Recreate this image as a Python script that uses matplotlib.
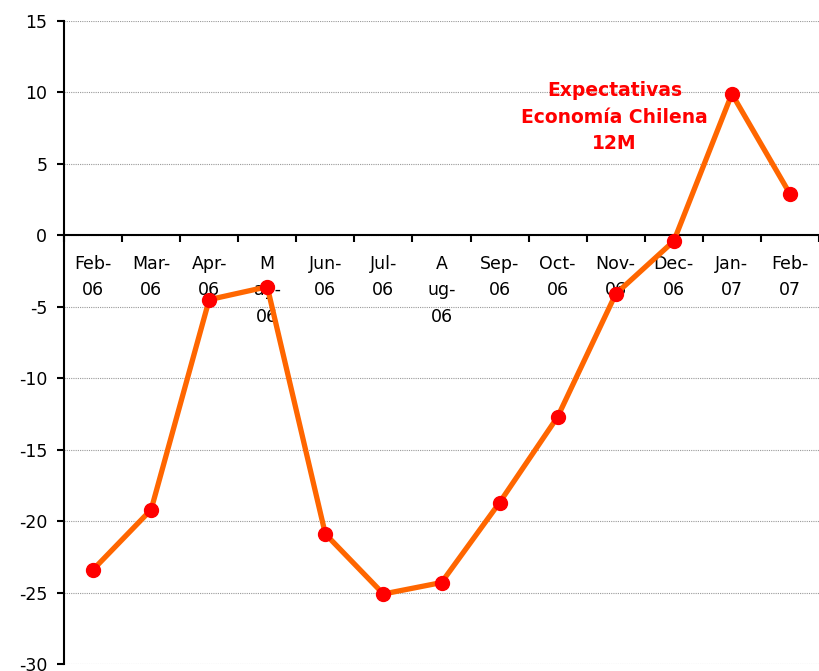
import numpy as np
import matplotlib
matplotlib.use("Agg")
import matplotlib.pyplot as plt

plt.rcParams['font.family'] = ['DejaVu Sans']

# data
months = ['Feb-\n06', 'Mar-\n06', 'Apr-\n06', 'M\nay-\n06', 'Jun-\n06', 'Jul-\n06',
          'A\nug-\n06', 'Sep-\n06', 'Oct-\n06', 'Nov-\n06', 'Dec-\n06', 'Jan-\n07', 'Feb-\n07']
expectativas = [-23.4, -19.2, -4.5, -3.6, -20.9, -25.1, -24.3, -18.7, -12.7, -4.1, -0.4, 9.9, 2.9]
y_ticks = [15, 10, 5, 0, -5, -10, -15, -20, -25, -30]

fig = plt.figure(figsize=(8.19, 6.71), dpi=100)
W, H = 819, 671
left, top, bottom = 64, 21, 664
ax = fig.add_axes([left / W, 1 - bottom / H, (W - left) / W, (bottom - top) / H])

x = np.arange(len(months))
ax.plot(x, expectativas, color='#FF6600', linewidth=3.8, zorder=3,
        marker='o', markersize=10, markerfacecolor='#FF0000', markeredgecolor='#FF0000')

ax.set_ylim(-30, 15)
ax.set_xlim(-0.5, -0.5 + (W - left) / 58.7)
ax.set_yticks(y_ticks)
ax.set_yticklabels([str(v) for v in y_ticks], fontsize=12.5)
ax.yaxis.grid(True, linestyle=(0, (1, 1)), color='#999999', linewidth=0.8)
ax.set_axisbelow(True)

# category axis crossing at zero, ticks between categories
ax.spines['bottom'].set_position(('data', 0))
ax.spines['top'].set_visible(False)
ax.spines['right'].set_visible(False)
ax.spines['left'].set_linewidth(1.5)
ax.spines['bottom'].set_linewidth(1.5)
ax.set_xticks(np.arange(-0.5, len(months), 1))
ax.set_xticklabels([])
ax.set_xticks(x, minor=True)
ax.set_xticklabels(months, minor=True, fontsize=12.5, linespacing=1.6, va='top')
ax.tick_params(axis='x', which='major', direction='out', length=5, width=1.5)
ax.tick_params(axis='x', which='minor', length=0, pad=14)
ax.tick_params(axis='y', direction='out', length=5, width=1.5, pad=7)

ax.text(8.98, 8.25, 'Expectativas\nEconomía Chilena\n12M', color='#FF0000',
        fontsize=13.5, fontweight='bold', ha='center', va='center', linespacing=1.5)

fig.savefig('out.png', dpi=100)
